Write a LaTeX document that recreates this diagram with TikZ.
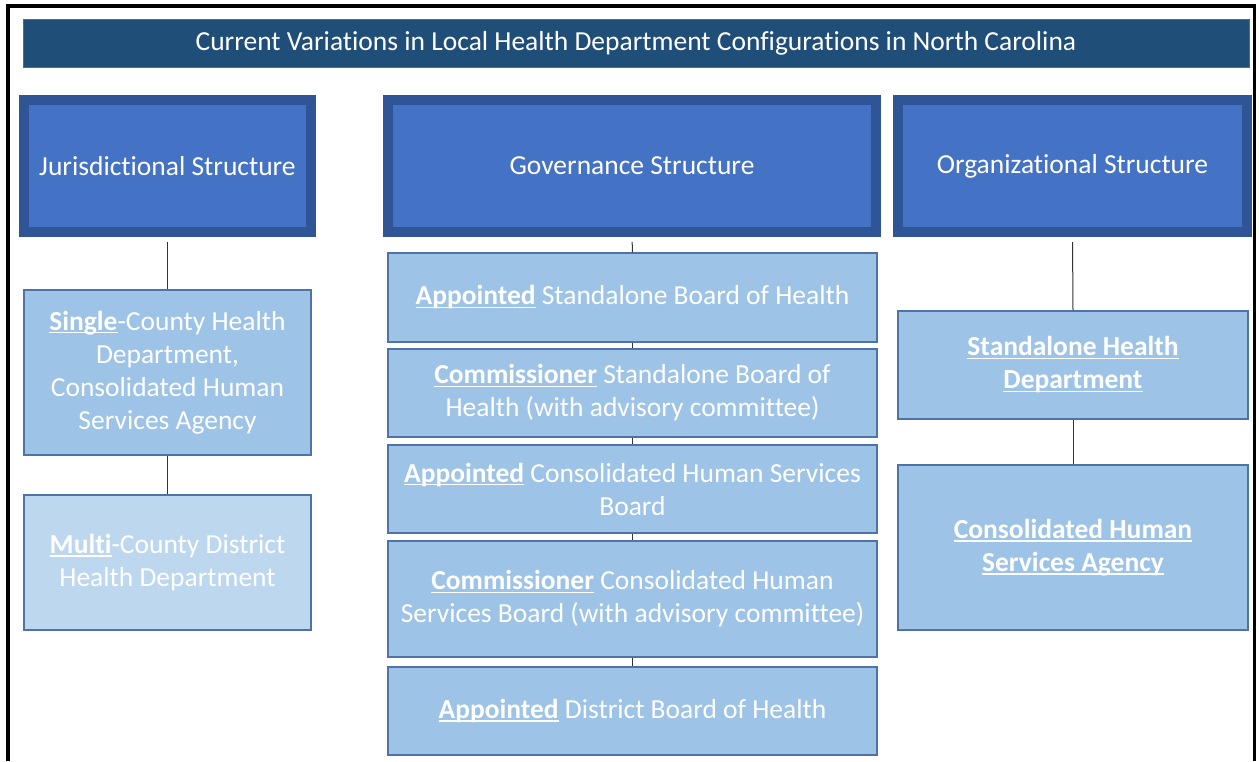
\documentclass[tikz,border=0pt]{standalone}
\usepackage{fontspec}
\setmainfont{Carlito}[Ligatures=NoCommon]
% bold, underlined keyword
\newsavebox\ulbox
\newcommand\ulb[1]{\sbox\ulbox{\bfseries #1}\rlap{\rule[-3.2pt]{\wd\ulbox}{1.6pt}}\usebox\ulbox}
\definecolor{hdrblue}{HTML}{1F4E79}
\definecolor{hdredge}{HTML}{41719C}
\definecolor{topfill}{HTML}{4472C4}
\definecolor{topedge}{HTML}{2F5597}
\definecolor{midfill}{HTML}{9DC3E6}
\definecolor{palefill}{HTML}{BDD7EE}
\definecolor{boxedge}{HTML}{4F72A8}
\begin{document}
\begin{tikzpicture}[x=1pt,y=-1pt,
  header/.style={fill=hdrblue,draw=hdredge,line width=0.8pt,minimum width=1226pt,minimum height=48pt,
    inner sep=0pt,text=white,font=\fontsize{27.5}{33}\selectfont},
  topbox/.style={fill=topfill,draw=topedge,line width=10pt,minimum height=132pt,inner sep=0pt,
    text=white,font=\fontsize{27.5}{33}\selectfont},
  subbox/.style={fill=midfill,draw=boxedge,line width=1.2pt,inner sep=0pt,align=center,
    text=white,font=\fontsize{27.5}{33}\selectfont},
  palebox/.style={subbox,fill=palefill},
  link/.style={draw=black!80,line width=1pt}]
\useasboundingbox (0,0) rectangle (1259,761);
\fill[white] (0,0) rectangle (1259,761);
% outer frame
\draw[line width=3.5pt] (7.75,761) -- (7.75,6) -- (1254.25,6) -- (1254.25,761);

\node[header] (title) at (636,43) {Current Variations in Local Health Department Configurations in North Carolina};

% column heads
\node[topbox,minimum width=287pt] (jur) at (167.5,166) {Jurisdictional Structure};
\node[topbox,minimum width=488pt] (gov) at (632,166) {Governance Structure};
\node[topbox,minimum width=349pt] (org) at (1072.5,166) {Organizational Structure};

% jurisdictional column
\node[subbox,minimum width=287pt,minimum height=165pt] (single) at (167.5,372.5)
  {\ulb{Single}-County Health\\Department,\\Consolidated Human\\Services Agency};
\node[palebox,minimum width=287pt,minimum height=135pt] (multi) at (167.5,562.5)
  {\ulb{Multi}-County District\\Health Department};

% governance column
\node[subbox,minimum width=489pt,minimum height=89pt] (g1) at (632.5,297.5)
  {\ulb{Appointed} Standalone Board of Health};
\node[subbox,minimum width=489pt,minimum height=88pt] (g2) at (632.5,393)
  {\ulb{Commissioner} Standalone Board of\\Health (with advisory committee)};
\node[subbox,minimum width=489pt,minimum height=88pt] (g3) at (632.5,489)
  {\ulb{Appointed} Consolidated Human Services\\Board};
\node[subbox,minimum width=489pt,minimum height=116pt] (g4) at (632.5,599)
  {\ulb{Commissioner} Consolidated Human\\Services Board (with advisory committee)};
\node[subbox,minimum width=489pt,minimum height=88pt] (g5) at (632.5,711)
  {\ulb{Appointed} District Board of Health};

% organizational column
\node[subbox,minimum width=350pt,minimum height=108pt] (o1) at (1073,365)
  {\ulb{Standalone Health}\\\ulb{Department}};
\node[subbox,minimum width=350pt,minimum height=165pt] (o2) at (1073,547.5)
  {\ulb{Consolidated Human}\\\ulb{Services Agency}};

% connectors
\draw[link,shorten <=5pt] (jur.south) -- (single.north);
\draw[link] (single.south) -- (multi.north);
\draw[link,shorten <=5pt] (gov.south) -- (g1.north);
\draw[link] (g1.south) -- (g2.north);
\draw[link] (g2.south) -- (g3.north);
\draw[link] (g3.south) -- (g4.north);
\draw[link] (g4.south) -- (g5.north);
\draw[link,shorten <=5pt] (org.south) -- (o1.north);
\draw[link] (o1.south) -- (o2.north);
\end{tikzpicture}
\end{document}
